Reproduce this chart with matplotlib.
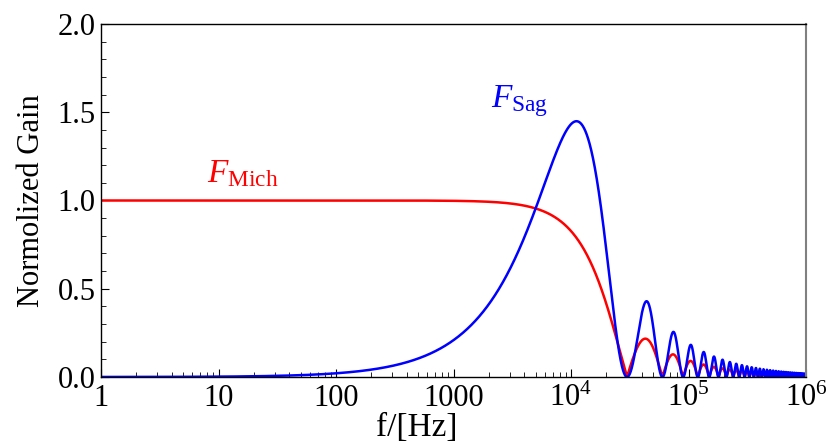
import numpy as np
import matplotlib.pyplot as plt
from matplotlib.ticker import FixedLocator, NullFormatter

plt.rcParams['font.family'] = 'Liberation Serif'
plt.rcParams['mathtext.fontset'] = 'custom'
plt.rcParams['mathtext.rm'] = 'Liberation Serif'
plt.rcParams['mathtext.it'] = 'Liberation Serif:italic'

# first null of both responses (Hz)
f_null = 3.0e4
f_min, f_max = 1.0, 1.0e6

x_ticks = [1, 10, 100, 1000, 1e4, 1e5, 1e6]
x_labels = ['1', '10', '100', '1000', r'$10^{4}$', r'$10^{5}$', r'$10^{6}$']
y_ticks = [0.0, 0.5, 1.0, 1.5, 2.0]
y_labels = ['0.0', '0.5', '1.0', '1.5', '2.0']

f = np.logspace(np.log10(f_min), np.log10(f_max), 200000)
u = np.pi * f / f_null
F_mich = np.abs(np.sin(u) / u)
F_sag = 2 * np.sin(u) ** 2 / u

fig = plt.figure(figsize=(8.3, 4.48), dpi=100)
ax = fig.add_axes([101 / 830, 1 - 377 / 448, 705 / 830, 353 / 448])

ax.plot(f, F_mich, color='#ff0000', lw=1.8)
ax.plot(f, F_sag, color='#0000ff', lw=1.8)

ax.set_xscale('log')
ax.set_xlim(f_min, f_max)
ax.set_ylim(0, 2)

ax.xaxis.set_major_locator(FixedLocator(x_ticks))
ax.set_xticklabels(x_labels)
minors = [m * 10 ** k for k in range(6) for m in range(2, 10)]
ax.xaxis.set_minor_locator(FixedLocator(minors))
ax.xaxis.set_minor_formatter(NullFormatter())
ax.set_yticks(y_ticks)
ax.set_yticklabels(y_labels)
ax.set_yticks(np.arange(0, 2.01, 0.1), minor=True)

ax.tick_params(which='both', direction='in', top=False, right=False,
               labelsize=22)
ax.tick_params(axis='x', pad=5)
ax.tick_params(axis='y', pad=4)
ax.tick_params(which='major', length=6, width=0.8)
ax.tick_params(which='minor', length=3.5, width=0.6)

for side in ['left', 'bottom', 'top']:
    ax.spines[side].set_color('black')
    ax.spines[side].set_linewidth(1.0)
ax.spines['right'].set_color('#808080')
ax.spines['right'].set_linewidth(1.5)

ax.set_xlabel('f/[Hz]', fontsize=24, labelpad=2)
ax.xaxis.set_label_coords(0.448, -0.1, transform=ax.transAxes)
ax.xaxis.label.set_verticalalignment('top')
ax.set_ylabel('Normolized Gain', fontsize=22, labelpad=8)

ax.text(8.0, 1.105, r'$F_{\mathrm{Mich}}$', color='#ff0000', fontsize=24)
ax.text(2100, 1.53, r'$F_{\mathrm{Sag}}$', color='#0000ff', fontsize=24)

fig.savefig('out.png', dpi=100)
